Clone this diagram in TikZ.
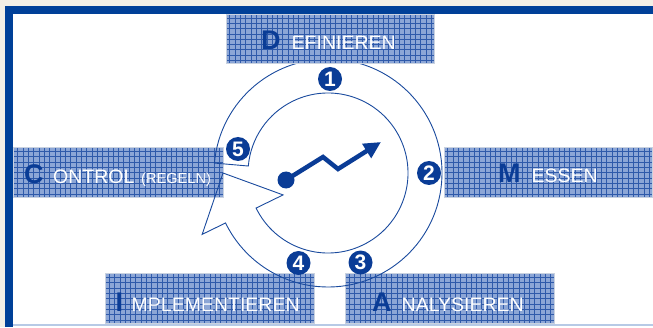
\documentclass[tikz,border=0pt]{standalone}
\usepackage{fontspec}
\setmainfont{Liberation Sans}
\usetikzlibrary{arrows.meta}
\definecolor{frameblue}{HTML}{004098}
\definecolor{darkblue}{HTML}{0A3C96}
\definecolor{boxfill}{HTML}{8CA6D6}
\definecolor{gridblue}{HTML}{2F5AAA}
\definecolor{boxedge}{HTML}{C9D2E0}
\definecolor{ringblue}{HTML}{1A4A9E}
\definecolor{beige}{HTML}{F3EFE6}
\definecolor{lightline}{HTML}{B7CAE6}
\begin{document}
\begin{tikzpicture}[x=1pt,y=1pt,
  gridbox/.style={draw=boxedge, line width=0.8pt, fill=boxfill, inner sep=0pt, anchor=south west,
    path picture={\draw[gridblue, line width=0.5pt, step=5.3pt] (path picture bounding box.south west) grid (path picture bounding box.north east);}},
  bigletter/.style={font=\fontsize{27}{27}\bfseries\selectfont, text=darkblue, inner sep=0pt, anchor=base west},
  word/.style={font=\fontsize{19.5}{19.5}\selectfont, text=white, inner sep=0pt, anchor=base west},
  smallword/.style={font=\fontsize{14.6}{14.6}\selectfont, text=white, inner sep=0pt, anchor=base west},
  numcirc/.style={circle, fill=darkblue, minimum size=24pt, inner sep=0pt, text=white, font=\fontsize{21}{21}\bfseries\selectfont},
  ring/.style={draw=ringblue, line width=0.9pt, line join=miter}
]
\useasboundingbox (0,0) rectangle (653,327);
\fill[beige] (0,0) rectangle (653,327);
\fill[white] (13,0) rectangle (653,313);
\fill[frameblue] (5,313) rectangle (653,321);
\fill[frameblue] (5,0) rectangle (13,321);
\draw[lightline, line width=1.2pt] (13,2) -- (653,2);

% side and bottom boxes
\node[gridbox, minimum width=210pt, minimum height=50pt] (con) at (13,129) {};
\node[gridbox, minimum width=208pt, minimum height=50pt] (mes) at (444,129) {};
\node[gridbox, minimum width=209pt, minimum height=50pt] (imp) at (105,3) {};
\node[gridbox, minimum width=209pt, minimum height=50pt] (ana) at (345,3) {};

\node[bigletter] (conL) at (24,143.5) {C};
\node[word] (conW) at (53,143.5) {ONTROL};
\node[smallword] (conS) at (141,143.5) {(REGELN)};
\node[bigletter] (mesL) at (498,144) {M};
\node[word] (mesW) at (531.5,144) {ESSEN};
\node[bigletter] (impL) at (115.3,16) {I};
\node[word] (impW) at (131.5,16) {MPLEMENTIEREN};
\node[bigletter] (anaL) at (372,16) {A};
\node[word] (anaW) at (401.5,16) {NALYSIEREN};

% ring arrow
\coordinate (c) at (328,154);
\draw[ring] ([shift={(175:114pt)}]c) arc[start angle=175, end angle=-154, radius=114pt]
  -- ([shift={(206:140pt)}]c) -- ([shift={(180:105pt)}]c) -- ([shift={(206:50pt)}]c)
  -- ([shift={(206:80pt)}]c) arc[start angle=-154, end angle=175, radius=80pt] -- cycle;

% numbers
\node[numcirc] (n1) at (330,248) {1};
\node[numcirc] (n2) at (429,154) {2};
\node[numcirc] (n3) at (360.5,64.5) {3};
\node[numcirc] (n4) at (298.5,64) {4};
\node[numcirc] (n5) at (238,178) {5};

% zigzag arrow
\node[circle, fill=darkblue, minimum size=17pt, inner sep=0pt] (dot) at (286,147) {};
\coordinate (z1) at (323,170);
\coordinate (z2) at (338,158);
\coordinate (z3) at (381,185);
\draw[darkblue, line width=4.5pt, line join=miter, -{Triangle[length=17pt,width=16pt]}] (dot.center) -- (z1) -- (z2) -- (z3);

% top box
\node[gridbox, minimum width=208pt, minimum height=49pt] (def) at (226,263) {};
\node[bigletter] (defL) at (261,277.5) {D};
\node[word] (defW) at (291.5,277.5) {EFINIEREN};
\end{tikzpicture}
\end{document}
